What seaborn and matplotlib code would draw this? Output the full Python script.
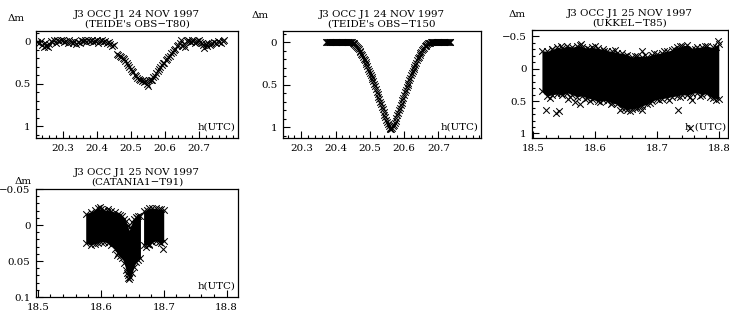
import numpy as np
import pandas as pd
import matplotlib
matplotlib.use("Agg")
import matplotlib.pyplot as plt
import seaborn as sns
from matplotlib.ticker import MultipleLocator

# --- panel 1: TEIDE T80, 24 Nov 1997 ---
t80_time = [20.226, 20.231, 20.236, 20.240, 20.244, 20.248, 20.252, 20.256, 20.260, 20.265,
            20.270, 20.275, 20.280, 20.285, 20.290, 20.295, 20.300, 20.305, 20.310, 20.315,
            20.320, 20.325, 20.330, 20.335, 20.340, 20.345, 20.350, 20.355, 20.360, 20.365,
            20.370, 20.375, 20.380, 20.385, 20.390, 20.395, 20.400, 20.405, 20.410, 20.415,
            20.420, 20.425, 20.430, 20.435, 20.440, 20.446, 20.452,
            20.460, 20.464, 20.468, 20.472, 20.476, 20.480, 20.484, 20.488, 20.492, 20.496,
            20.500, 20.504, 20.508, 20.512, 20.516, 20.520, 20.524, 20.528, 20.532, 20.536,
            20.540, 20.544, 20.548, 20.551, 20.555, 20.559, 20.563, 20.567, 20.571, 20.575,
            20.579, 20.583, 20.587, 20.591, 20.595, 20.599, 20.603, 20.607, 20.611, 20.615,
            20.619, 20.623, 20.627, 20.631, 20.636, 20.640, 20.644, 20.648, 20.652, 20.656,
            20.660, 20.664, 20.668, 20.672, 20.676, 20.680, 20.684, 20.688, 20.692, 20.696,
            20.700, 20.704, 20.708, 20.712, 20.716, 20.720, 20.724, 20.728, 20.732, 20.736,
            20.740, 20.745, 20.750, 20.755, 20.760, 20.765, 20.770, 20.775]
t80_dm = [0.01, 0.02, 0.00, 0.04, 0.07, 0.02, 0.05, 0.07, 0.03, 0.00,
          0.01, -0.01, 0.02, -0.01, 0.00, -0.02, -0.01, 0.01, 0.00, 0.02,
          -0.01, 0.01, 0.02, 0.00, 0.03, 0.01, 0.02, -0.01, 0.00, -0.02,
          0.01, -0.01, 0.00, -0.02, 0.01, 0.00, -0.01, 0.02, 0.00, -0.01,
          0.01, 0.00, 0.02, 0.01, 0.03, 0.05, 0.04,
          0.15, 0.16, 0.17, 0.18, 0.20, 0.21, 0.23, 0.26, 0.28, 0.30,
          0.33, 0.35, 0.36, 0.39, 0.41, 0.43, 0.44, 0.45, 0.47, 0.46,
          0.48, 0.47, 0.50, 0.53, 0.46, 0.45, 0.45, 0.42, 0.41, 0.37,
          0.35, 0.32, 0.30, 0.28, 0.26, 0.25, 0.22, 0.21, 0.19, 0.17,
          0.14, 0.12, 0.10, 0.09, 0.06, 0.04, 0.02, -0.02, 0.05, 0.03,
          0.07, 0.00, -0.02, 0.00, 0.01, -0.01, 0.00, 0.02, 0.01, 0.00,
          -0.01, 0.01, 0.02, 0.04, 0.08, 0.03, 0.05, 0.02, 0.04, 0.03,
          0.02, 0.01, 0.02, 0.00, 0.01, 0.02, 0.00, -0.01]

# --- panel 2: TEIDE T150, 24 Nov 1997 ---
t150_flat_left = [20.3725, 20.375, 20.3775, 20.380, 20.3825, 20.385, 20.3875, 20.390, 20.3925,
                  20.395, 20.3975, 20.400, 20.4025, 20.405, 20.4075, 20.410, 20.4125, 20.415,
                  20.4175, 20.420, 20.4225, 20.425, 20.4275, 20.430, 20.4325, 20.435, 20.4375,
                  20.440, 20.4425]
t150_dip_time = [20.4450, 20.4475, 20.4500, 20.4525, 20.4550, 20.4575, 20.4600, 20.4625, 20.4650,
                 20.4675, 20.4700, 20.4725, 20.4750, 20.4775, 20.4800, 20.4825, 20.4850, 20.4875,
                 20.4900, 20.4925, 20.4950, 20.4975, 20.5000, 20.5025, 20.5050, 20.5075, 20.5100,
                 20.5125, 20.5150, 20.5175, 20.5200, 20.5225, 20.5250, 20.5275, 20.5300, 20.5325,
                 20.5350, 20.5375, 20.5400, 20.5425, 20.5450, 20.5475, 20.5500, 20.5525, 20.5550,
                 20.5575, 20.5600, 20.5625, 20.5650, 20.5675, 20.5700, 20.5725, 20.5750, 20.5775,
                 20.5800, 20.5825, 20.5850, 20.5875, 20.5900, 20.5925, 20.5950, 20.5975, 20.6000,
                 20.6025, 20.6050, 20.6075, 20.6100, 20.6125, 20.6150, 20.6175, 20.6200, 20.6225,
                 20.6250, 20.6275, 20.6300, 20.6325, 20.6350, 20.6375, 20.6400, 20.6425, 20.6450,
                 20.6475, 20.6500, 20.6525, 20.6550, 20.6575, 20.6600, 20.6625, 20.6650, 20.6675,
                 20.6700, 20.6725, 20.6750, 20.6775]
t150_dip_dm = [0.0, 0.002, 0.005, 0.012, 0.02, 0.03, 0.04, 0.052, 0.065,
               0.082, 0.10, 0.117, 0.135, 0.155, 0.175, 0.195, 0.215, 0.237,
               0.26, 0.285, 0.31, 0.335, 0.36, 0.385, 0.41, 0.435, 0.46,
               0.49, 0.52, 0.55, 0.58, 0.61, 0.64, 0.67, 0.70, 0.73,
               0.76, 0.79, 0.82, 0.85, 0.88, 0.91, 0.94, 0.965, 0.99,
               1.01, 1.02, 1.02, 1.01, 0.99, 0.97, 0.945, 0.92, 0.89,
               0.86, 0.83, 0.80, 0.77, 0.74, 0.71, 0.68, 0.65, 0.62,
               0.59, 0.56, 0.53, 0.50, 0.475, 0.45, 0.42, 0.39, 0.365,
               0.34, 0.315, 0.29, 0.265, 0.24, 0.215, 0.19, 0.17, 0.15,
               0.13, 0.11, 0.095, 0.08, 0.065, 0.05, 0.04, 0.03, 0.022,
               0.015, 0.01, 0.005, 0.002]
t150_flat_right = [20.680, 20.6825, 20.685, 20.6875, 20.690, 20.6925, 20.695, 20.6975, 20.700,
                   20.7025, 20.705, 20.7075, 20.710, 20.7125, 20.715, 20.7175, 20.720, 20.7225,
                   20.725, 20.7275, 20.730, 20.7325, 20.735]

# --- panel 3: UKKEL T85, 25 Nov 1997 (dense cloud: edges + stray points) ---
t85_time = [18.514, 18.523, 18.531, 18.539, 18.547, 18.555, 18.563, 18.571, 18.579, 18.587,
            18.595, 18.604, 18.612, 18.620, 18.628, 18.636, 18.644, 18.652, 18.660, 18.668,
            18.676, 18.684, 18.692, 18.700, 18.708, 18.716, 18.724, 18.733, 18.741, 18.749,
            18.757, 18.765, 18.773, 18.781, 18.790, 18.800]
t85_top = [-0.28, -0.27, -0.30, -0.33, -0.32, -0.36, -0.33, -0.36, -0.34, -0.32,
           -0.33, -0.32, -0.30, -0.28, -0.27, -0.25, -0.24, -0.22, -0.18, -0.20,
           -0.19, -0.19, -0.22, -0.23, -0.25, -0.27, -0.29, -0.33, -0.35, -0.37,
           -0.31, -0.33, -0.34, -0.35, -0.33, -0.38]
t85_bottom = [0.35, 0.42, 0.40, 0.39, 0.41, 0.37, 0.40, 0.43, 0.42, 0.45,
              0.47, 0.50, 0.49, 0.50, 0.53, 0.55, 0.60, 0.63, 0.62, 0.60,
              0.57, 0.55, 0.50, 0.47, 0.46, 0.45, 0.43, 0.42, 0.40, 0.41,
              0.38, 0.37, 0.40, 0.38, 0.45, 0.47]
t85_edge_time = [18.530, 18.545, 18.560, 18.575, 18.590, 18.600, 18.615, 18.632, 18.648, 18.664,
                 18.680, 18.695, 18.712, 18.728, 18.737, 18.745, 18.762, 18.778, 18.795,
                 18.527, 18.545, 18.560, 18.584, 18.598, 18.608, 18.625, 18.640, 18.648, 18.656,
                 18.664, 18.672, 18.688, 18.704, 18.720, 18.738, 18.753, 18.770, 18.785, 18.796]
t85_edge_dm = [-0.31, -0.35, -0.30, -0.37, -0.31, -0.35, -0.27, -0.29, -0.20, -0.20,
               -0.22, -0.25, -0.27, -0.31, -0.36, -0.34, -0.30, -0.36, -0.34,
               0.45, 0.38, 0.44, 0.47, 0.45, 0.52, 0.55, 0.63, 0.60, 0.65,
               0.61, 0.58, 0.53, 0.49, 0.48, 0.44, 0.43, 0.42, 0.44, 0.49]
t85_out_time = [18.521, 18.537, 18.541, 18.556, 18.568, 18.576, 18.578, 18.592,
                18.676, 18.676, 18.734, 18.753, 18.757, 18.799]
t85_out_dm = [0.63, 0.69, 0.66, 0.46, 0.51, 0.55, -0.38, 0.50,
              -0.28, 0.64, 0.63, 0.92, 0.48, -0.43]

# --- panel 4: CATANIA1 T91, 25 Nov 1997 (two dense clouds) ---
t91a_time = [18.576, 18.584, 18.590, 18.595, 18.600, 18.605, 18.611, 18.616, 18.622, 18.627,
             18.631, 18.634, 18.637, 18.640, 18.643, 18.645, 18.647, 18.650, 18.653, 18.656,
             18.659, 18.663]
t91a_top = [-0.016, -0.018, -0.021, -0.023, -0.022, -0.021, -0.020, -0.020, -0.018, -0.016,
            -0.014, -0.012, -0.008, -0.005, 0.002, 0.008, 0.003, -0.004, -0.008, -0.011,
            -0.013, -0.012]
t91a_bottom = [0.025, 0.028, 0.026, 0.025, 0.023, 0.023, 0.025, 0.028, 0.033, 0.039,
               0.043, 0.046, 0.053, 0.062, 0.070, 0.075, 0.072, 0.066, 0.058, 0.051,
               0.048, 0.046]
t91b_time = [18.668, 18.673, 18.677, 18.682, 18.687, 18.692, 18.696, 18.700]
t91b_top = [-0.019, -0.021, -0.023, -0.024, -0.023, -0.022, -0.022, -0.021]
t91b_bottom = [0.028, 0.027, 0.028, 0.024, 0.022, 0.023, 0.025, 0.022]
t91_out_time = [18.672, 18.676, 18.699, 18.626, 18.644, 18.598, 18.612, 18.641, 18.658]
t91_out_dm = [0.030, 0.026, 0.033, 0.041, 0.074, -0.025, -0.022, 0.066, -0.010]

# titles / ticks
titles = ["J3 OCC J1 24 NOV 1997\n(TEIDE's OBS\u2212T80)",
          "J3 OCC J1 24 NOV 1997\n(TEIDE's OBS\u2212T150",
          "J3 OCC J1 25 NOV 1997\n(UKKEL\u2212T85)",
          "J3 OCC J1 25 NOV 1997\n(CATANIA1\u2212T91)"]
teide_xticks = [20.3, 20.4, 20.5, 20.6, 20.7]
teide_xlabels = ["20.3", "20.4", "20.5", "20.6", "20.7"]
late_xticks = [18.5, 18.6, 18.7, 18.8]
late_xlabels = ["18.5", "18.6", "18.7", "18.8"]
teide_yticks = [0, 0.5, 1]
teide_ylabels = ["0", "0.5", "1"]
ukkel_yticks = [-0.5, 0, 0.5, 1]
ukkel_ylabels = ["\u22120.5", "0", "0.5", "1"]
catania_yticks = [-0.05, 0, 0.05, 0.1]
catania_ylabels = ["\u22120.05", "0", "0.05", "0.1"]

sns.set_style("ticks")
plt.rcParams["font.family"] = ["DejaVu Serif"]
plt.rcParams["font.size"] = 7.4
for key in ["text.color", "axes.labelcolor", "xtick.color", "ytick.color", "axes.edgecolor"]:
    plt.rcParams[key] = "black"

fig = plt.figure(figsize=(7.29, 3.14), dpi=100)
ax1 = fig.add_axes([0.0494, 0.562, 0.277, 0.339])
ax2 = fig.add_axes([0.388, 0.562, 0.2716, 0.339])
ax3 = fig.add_axes([0.7298, 0.5605, 0.2689, 0.344])
ax4 = fig.add_axes([0.0494, 0.054, 0.277, 0.344])

mk = dict(marker="x", color="black", s=22, linewidth=0.75, legend=False)

sns.scatterplot(x=t80_time, y=t80_dm, ax=ax1, **mk)
sns.scatterplot(x=t150_flat_left + t150_dip_time + t150_flat_right,
                y=[0.0] * len(t150_flat_left) + t150_dip_dm + [0.0] * len(t150_flat_right),
                ax=ax2, **mk)

ax3.fill_between(t85_time, t85_top, t85_bottom, color="black", linewidth=0)
sns.scatterplot(x=t85_time + t85_time + t85_edge_time + t85_out_time,
                y=t85_top + t85_bottom + t85_edge_dm + t85_out_dm, ax=ax3, **mk)

ax4.fill_between(t91a_time, t91a_top, t91a_bottom, color="black", linewidth=0)
ax4.fill_between(t91b_time, t91b_top, t91b_bottom, color="black", linewidth=0)
sns.scatterplot(x=t91a_time + t91a_time + t91b_time + t91b_time + t91_out_time,
                y=t91a_top + t91a_bottom + t91b_top + t91b_bottom + t91_out_dm,
                ax=ax4, **mk)

setup = [
    (ax1, (20.222, 20.815), (1.13, -0.12), teide_xticks, teide_xlabels, teide_yticks, teide_ylabels, 0.1, titles[0], (-0.1, 1.12), "h(UTC)"),
    (ax2, (20.246, 20.824), (1.12, -0.13), teide_xticks, teide_xlabels, teide_yticks, teide_ylabels, 0.1, titles[1], (-0.116, 1.15), "h(UTC)"),
    (ax3, (18.498, 18.815), (1.07, -0.6), late_xticks, late_xlabels, ukkel_yticks, ukkel_ylabels, 0.1, titles[2], (-0.077, 1.14), "h (UTC)"),
    (ax4, (18.497, 18.818), (0.1, -0.05), late_xticks, late_xlabels, catania_yticks, catania_ylabels, 0.01, titles[3], (-0.064, 1.07), "h(UTC)"),
]

for ax, xl, yl, xt, xtl, yt, ytl, ymin, title, dm_pos, hlab in setup:
    ax.set_xlim(*xl)
    ax.set_ylim(*yl)
    ax.set_xticks(xt)
    ax.set_xticklabels(xtl)
    ax.set_yticks(yt)
    ax.set_yticklabels(ytl)
    ax.xaxis.set_minor_locator(MultipleLocator(0.02))
    ax.yaxis.set_minor_locator(MultipleLocator(ymin))
    ax.tick_params(which="both", direction="in", top=False, right=False, width=0.8,
                   labelsize=7.4, color="black", labelcolor="black")
    ax.tick_params(which="major", length=5)
    ax.tick_params(axis="x", which="major", pad=4.5)
    ax.tick_params(axis="y", which="major", pad=4)
    ax.tick_params(which="minor", length=2.5)
    for sp in ax.spines.values():
        sp.set_visible(True)
        sp.set_linewidth(0.9)
        sp.set_color("black")
    ax.set_title(title, fontsize=7.4, pad=3, linespacing=1.15, color="black")
    ax.text(dm_pos[0], dm_pos[1], "\u0394m", transform=ax.transAxes, ha="center", va="center", fontsize=7.4)
    ax.text(0.99, 0.1, hlab, transform=ax.transAxes, ha="right", va="center", fontsize=7.4)

fig.savefig("out.png", dpi=100)
